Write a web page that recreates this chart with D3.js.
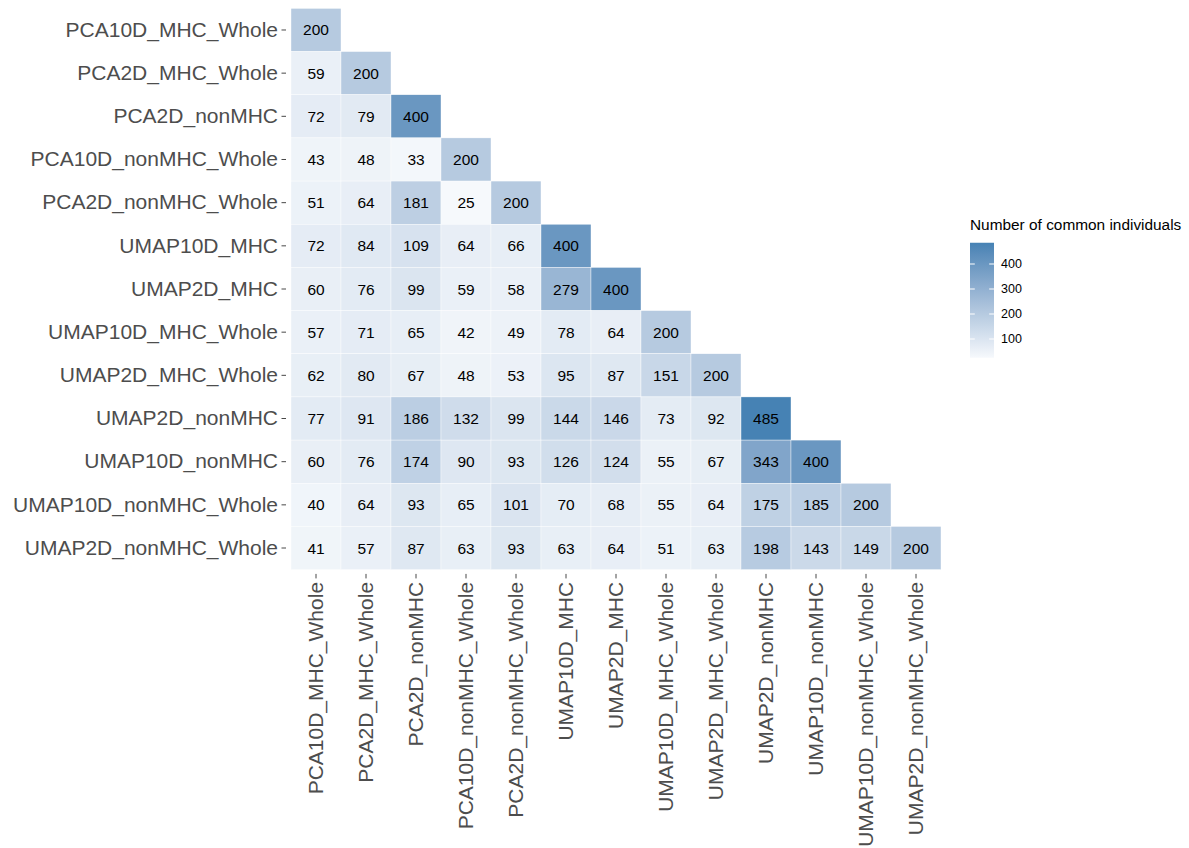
<!DOCTYPE html>
<html><head><meta charset="utf-8">
<script src="https://cdn.jsdelivr.net/npm/d3@7"></script>
<style>body{margin:0;background:#fff;font-family:"Liberation Sans",Arial,sans-serif;}</style>
</head><body><svg id="c" width="1189" height="848"></svg>
<script>
const categories = ["PCA10D_MHC_Whole","PCA2D_MHC_Whole","PCA2D_nonMHC","PCA10D_nonMHC_Whole","PCA2D_nonMHC_Whole","UMAP10D_MHC","UMAP2D_MHC","UMAP10D_MHC_Whole","UMAP2D_MHC_Whole","UMAP2D_nonMHC","UMAP10D_nonMHC","UMAP10D_nonMHC_Whole","UMAP2D_nonMHC_Whole"];
const row0 = [200];
const row1 = [59,200];
const row2 = [72,79,400];
const row3 = [43,48,33,200];
const row4 = [51,64,181,25,200];
const row5 = [72,84,109,64,66,400];
const row6 = [60,76,99,59,58,279,400];
const row7 = [57,71,65,42,49,78,64,200];
const row8 = [62,80,67,48,53,95,87,151,200];
const row9 = [77,91,186,132,99,144,146,73,92,485];
const row10 = [60,76,174,90,93,126,124,55,67,343,400];
const row11 = [40,64,93,65,101,70,68,55,64,175,185,200];
const row12 = [41,57,87,63,93,63,64,51,63,198,143,149,200];
const rows = [row0,row1,row2,row3,row4,row5,row6,row7,row8,row9,row10,row11,row12];
const legendTicks = [100,200,300,400];
const legendTitle = "Number of common individuals";

const cells = [];
rows.forEach((r,i)=>r.forEach((v,j)=>cells.push({row:categories[i],col:categories[j],v})));

const svg = d3.select("#c");
const x = d3.scaleBand().domain(categories).range([291,941]);
const y = d3.scaleBand().domain(categories).range([8.4,569.6]);
const padX = 0.1*x.bandwidth(), padY = 0.1*y.bandwidth();
const ext = d3.extent(cells,d=>d.v);
const color = d3.scaleLinear().domain(ext).range(["#f6f9fc","#4682b4"]).interpolate(d3.interpolateLab);

svg.append("g").selectAll("rect").data(cells).join("rect")
  .attr("x",d=>x(d.col)).attr("y",d=>y(d.row))
  .attr("width",x.bandwidth()).attr("height",y.bandwidth())
  .attr("fill",d=>color(d.v)).attr("stroke","#fff").attr("stroke-width",0.4);

svg.append("g").selectAll("text").data(cells).join("text")
  .attr("x",d=>x(d.col)+x.bandwidth()/2).attr("y",d=>y(d.row)+y.bandwidth()/2)
  .attr("text-anchor","middle").attr("dominant-baseline","central")
  .attr("font-size",15.5).attr("fill","#000").text(d=>d.v);

// y axis (panel edge is 0.1 band outside the tiles)
const ya = svg.append("g").attr("transform",`translate(${291-padX},0)`).call(d3.axisLeft(y).tickSize(4.5).tickPadding(3.5));
ya.select(".domain").remove();
ya.selectAll("line").attr("stroke","#333").attr("stroke-width",0.9);
ya.selectAll("text").attr("font-size",21).attr("fill","#4d4d4d").attr("font-family","Liberation Sans, Arial, sans-serif");

// x axis
const xa = svg.append("g").attr("transform",`translate(0,${569.6+padY})`).call(d3.axisBottom(x).tickSize(4.5).tickPadding(3));
xa.select(".domain").remove();
xa.selectAll("line").attr("stroke","#333").attr("stroke-width",0.9);
xa.selectAll("text").attr("font-size",21).attr("fill","#4d4d4d").attr("font-family","Liberation Sans, Arial, sans-serif")
  .attr("transform","rotate(-90)").attr("text-anchor","end").attr("dy","0.35em").attr("x",-8).attr("y",0);

// legend
const ls = d3.scaleLinear().domain(ext).range([357.75,242.75]);
const defs = svg.append("defs");
const grad = defs.append("linearGradient").attr("id","g").attr("x1",0).attr("x2",0).attr("y1",1).attr("y2",0);
d3.range(0,1.0001,0.1).forEach(t=>grad.append("stop").attr("offset",t).attr("stop-color",color(ext[0]+t*(ext[1]-ext[0]))));
svg.append("rect").attr("x",970).attr("y",ls(ext[1])).attr("width",24).attr("height",ls(ext[0])-ls(ext[1])).attr("fill","url(#g)");
const lg = svg.append("g");
legendTicks.forEach(t=>{
  lg.append("line").attr("x1",970).attr("x2",974.8).attr("y1",ls(t)).attr("y2",ls(t)).attr("stroke","#fff").attr("stroke-width",1);
  lg.append("line").attr("x1",989.2).attr("x2",994).attr("y1",ls(t)).attr("y2",ls(t)).attr("stroke","#fff").attr("stroke-width",1);
  lg.append("text").attr("x",1001).attr("y",ls(t)).attr("dominant-baseline","central").attr("font-size",12.5).attr("fill","#000").text(t);
});
svg.append("text").attr("x",970).attr("y",230).attr("font-size",15.4).attr("fill","#000").text(legendTitle);
</script></body></html>
